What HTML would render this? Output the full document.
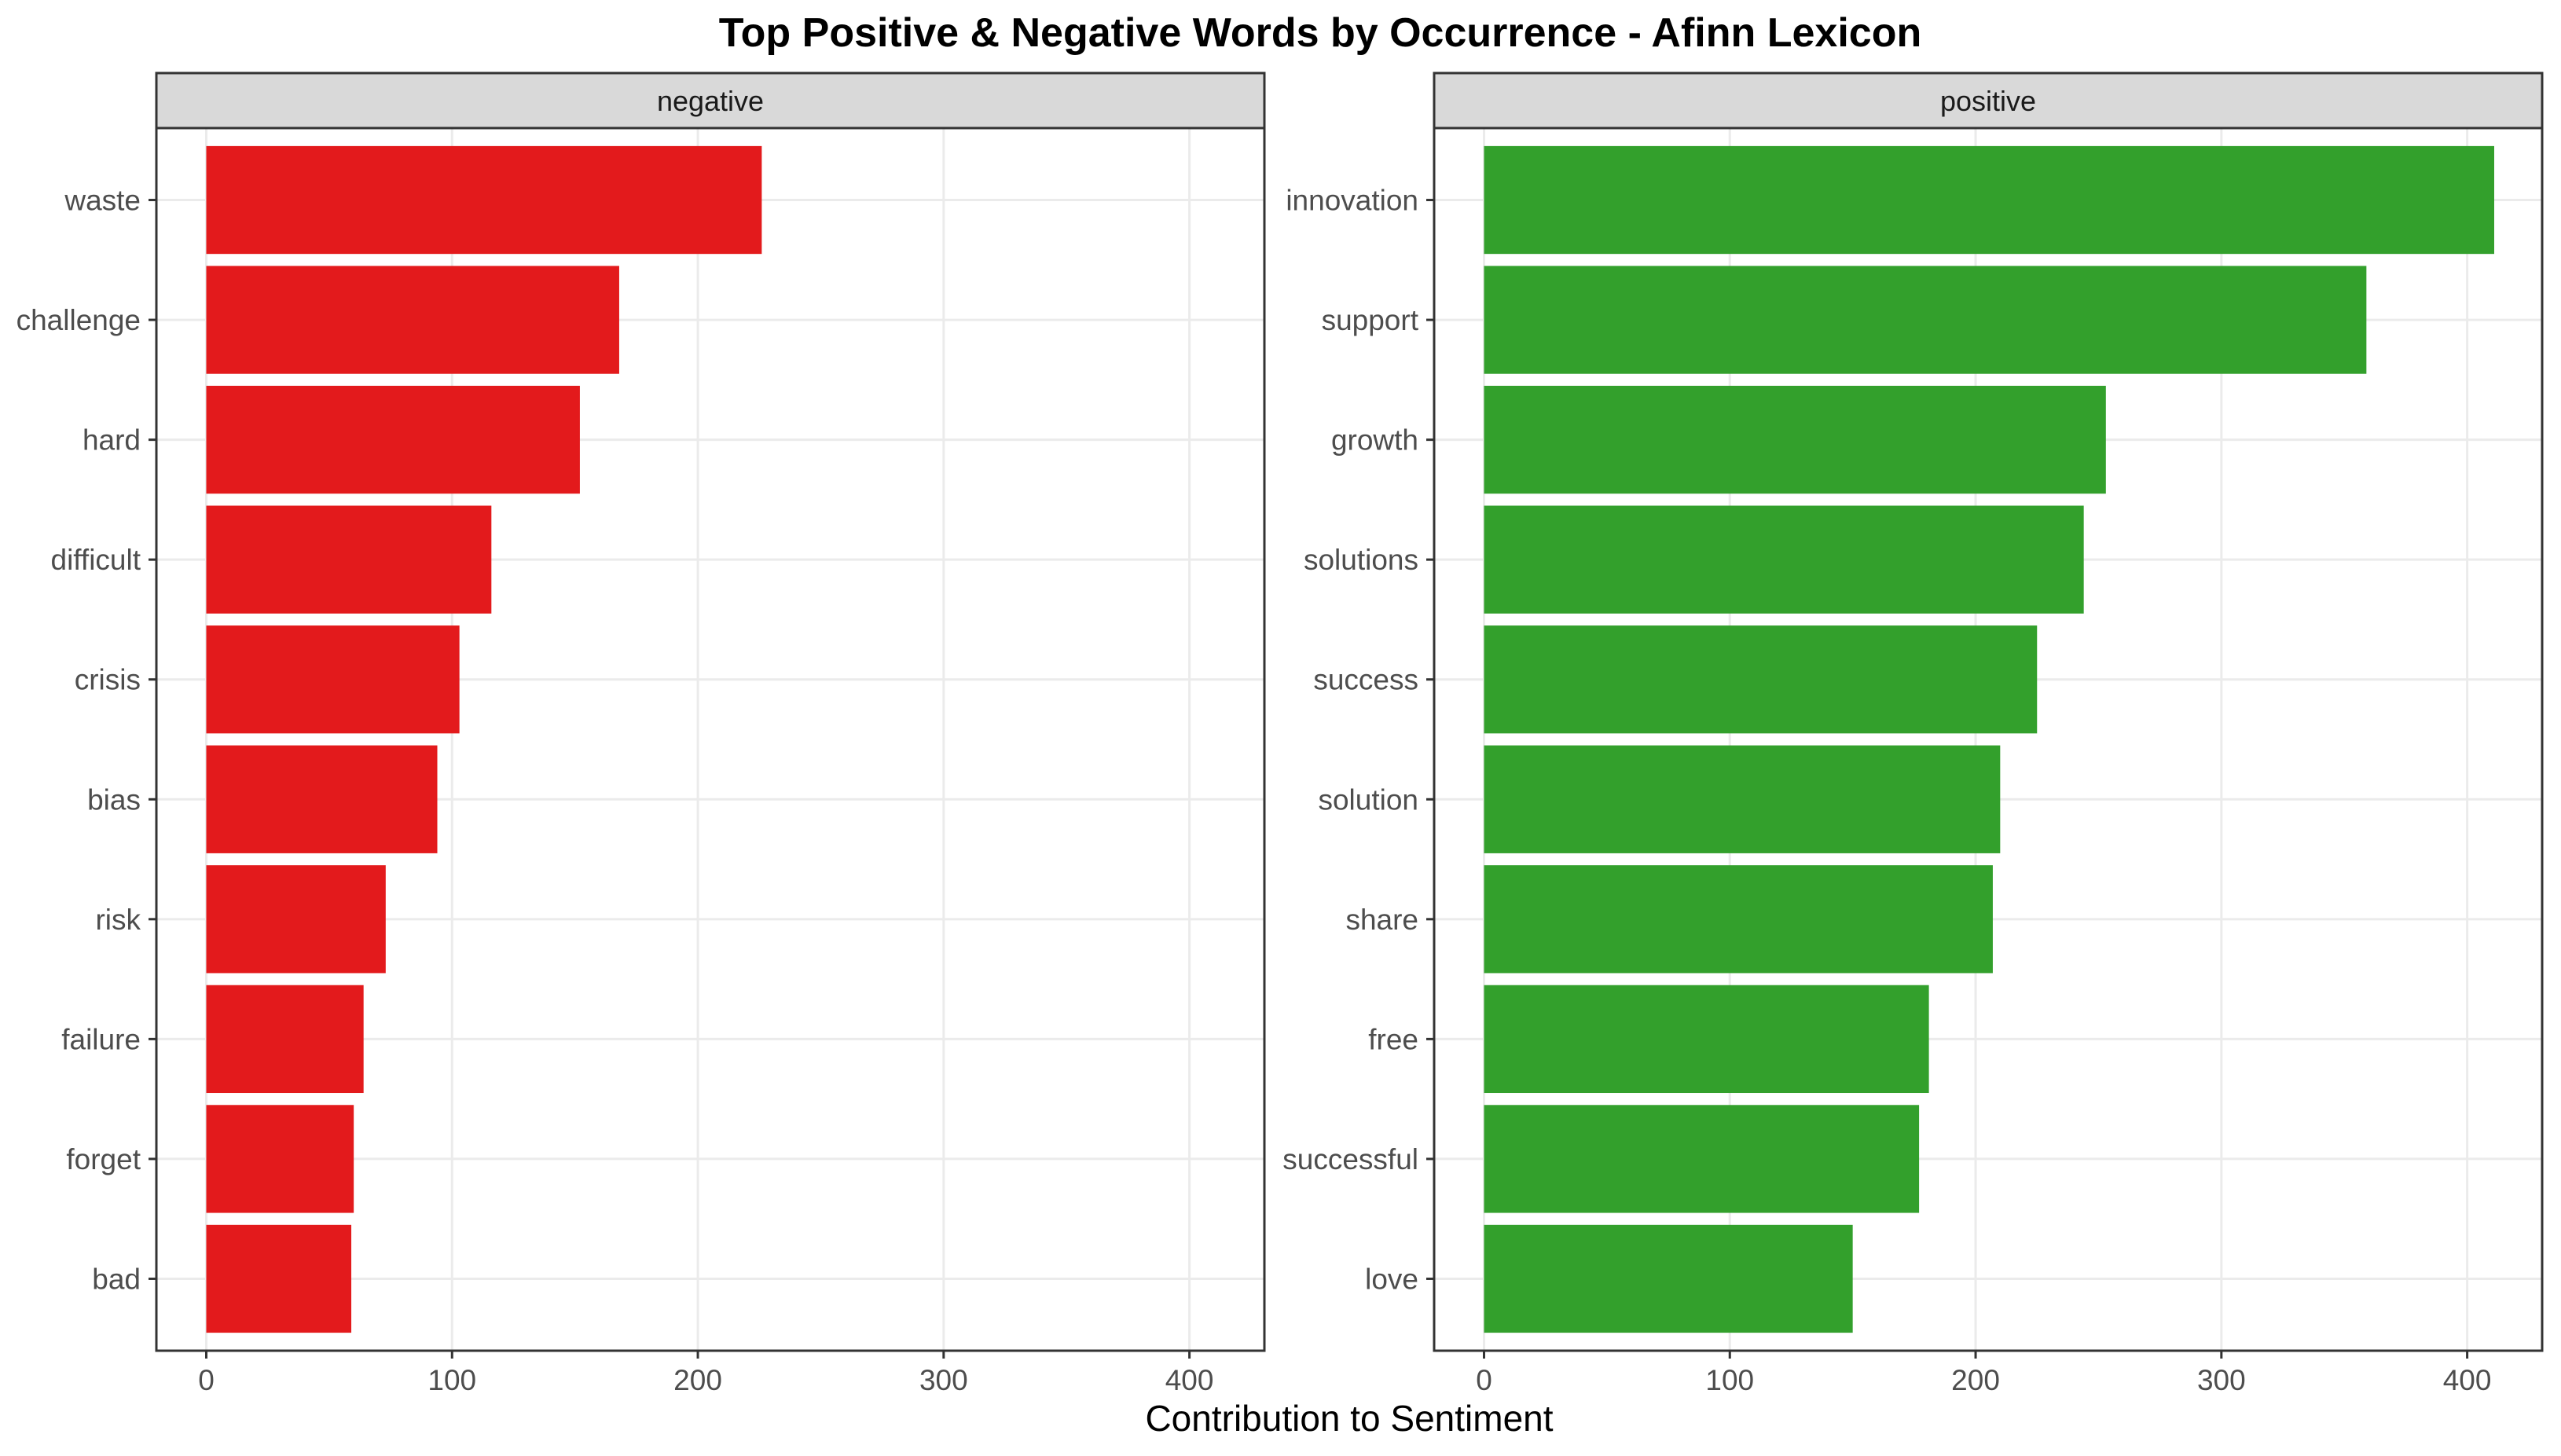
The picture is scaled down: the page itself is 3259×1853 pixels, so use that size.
<!DOCTYPE html>
<html><head><meta charset="utf-8"><style>
html,body{margin:0;padding:0;background:#fff;}
svg{display:block;font-family:"Liberation Sans",Arial,sans-serif;}
</style></head><body>
<svg id="chart" width="3259" height="1853" viewBox="0 0 3259 1853" xmlns="http://www.w3.org/2000/svg">
<rect width="3259" height="1853" fill="#fff"/>
<text x="1680" y="59" text-anchor="middle" font-size="52" font-weight="bold" fill="#000">Top Positive &amp; Negative Words by Occurrence - Afinn Lexicon</text>
<text x="1717" y="1821" text-anchor="middle" font-size="46" fill="#000">Contribution to Sentiment</text>
<g id="panels"></g>
</svg>
<script>
const negWords = ["waste","challenge","hard","difficult","crisis","bias","risk","failure","forget","bad"];
const negValues = [226,168,152,116,103,94,73,64,60,59];
const posWords = ["innovation","support","growth","solutions","success","solution","share","free","successful","love"];
const posValues = [411,359,253,244,225,210,207,181,177,150];
const xTicks = [0,100,200,300,400];
const facetLabels = ["negative","positive"];

const NS = "http://www.w3.org/2000/svg";
const root = document.getElementById('panels');
function mk(tag, attrs, parent){
  const e = document.createElementNS(NS, tag);
  for (const k in attrs) e.setAttribute(k, attrs[k]);
  parent.appendChild(e); return e;
}
const panelTop = 163, panelBot = 1719, stripTop = 93;
const xMin = -20.3, xMax = 430.5;
const panelDefs = [
  {left:199, right:1609, words:negWords, vals:negValues, color:"#e31a1c", label:facetLabels[0]},
  {left:1825, right:3235, words:posWords, vals:posValues, color:"#33a02c", label:facetLabels[1]}
];
panelDefs.forEach((p, pi) => {
  const g = mk('g', {}, root);
  
  
  const xs = v => p.left + (v - xMin) / (xMax - xMin) * (p.right - p.left);
  const n = p.words.length;
  const step = (panelBot - panelTop) / (n - 1 + 1.2);
  const ys = i => panelTop + 0.6 * step + i * step;
  xTicks.forEach(t => {
    const l = mk('line', {x1:xs(t), x2:xs(t), y1:panelTop, y2:panelBot, stroke:"#ebebeb", "stroke-width":3}, g);
    
    
  });
  p.words.forEach((w, i) => {
    const l = mk('line', {x1:p.left, x2:p.right, y1:ys(i), y2:ys(i), stroke:"#ebebeb", "stroke-width":3}, g);
    
    
  });
  p.words.forEach((w, i) => {
    const h = step * 0.9;
    const r = mk('rect', {x:xs(0), y:ys(i) - h/2, width:xs(p.vals[i]) - xs(0), height:h, fill:p.color}, g);
    
    
    const tk = mk('line', {x1:p.left - 10, x2:p.left, y1:ys(i), y2:ys(i), stroke:"#333", "stroke-width":3}, g);
    
    
    const t = mk('text', {x:p.left - 20, y:ys(i) + 13, "text-anchor":"end", "font-size":37, fill:"#4d4d4d"}, g);
    
    
    t.textContent = w;
  });
  xTicks.forEach(tv => {
    const tk = mk('line', {x1:xs(tv), x2:xs(tv), y1:panelBot, y2:panelBot + 10, stroke:"#333", "stroke-width":3}, g);
    
    
    const t = mk('text', {x:xs(tv), y:1769, "text-anchor":"middle", "font-size":37, fill:"#4d4d4d"}, g);
    
    
    t.textContent = tv;
  });
  const b = mk('rect', {x:p.left, y:panelTop, width:p.right - p.left, height:panelBot - panelTop, fill:"none", stroke:"#333", "stroke-width":3}, g);
  
  
  const s = mk('rect', {x:p.left, y:stripTop, width:p.right - p.left, height:panelTop - stripTop, fill:"#d9d9d9", stroke:"#333", "stroke-width":3}, g);
  
  
  const st = mk('text', {x:(p.left + p.right)/2, y:141, "text-anchor":"middle", "font-size":36, fill:"#1a1a1a"}, g);
  
  
  st.textContent = p.label;
});
</script>
</body></html>
